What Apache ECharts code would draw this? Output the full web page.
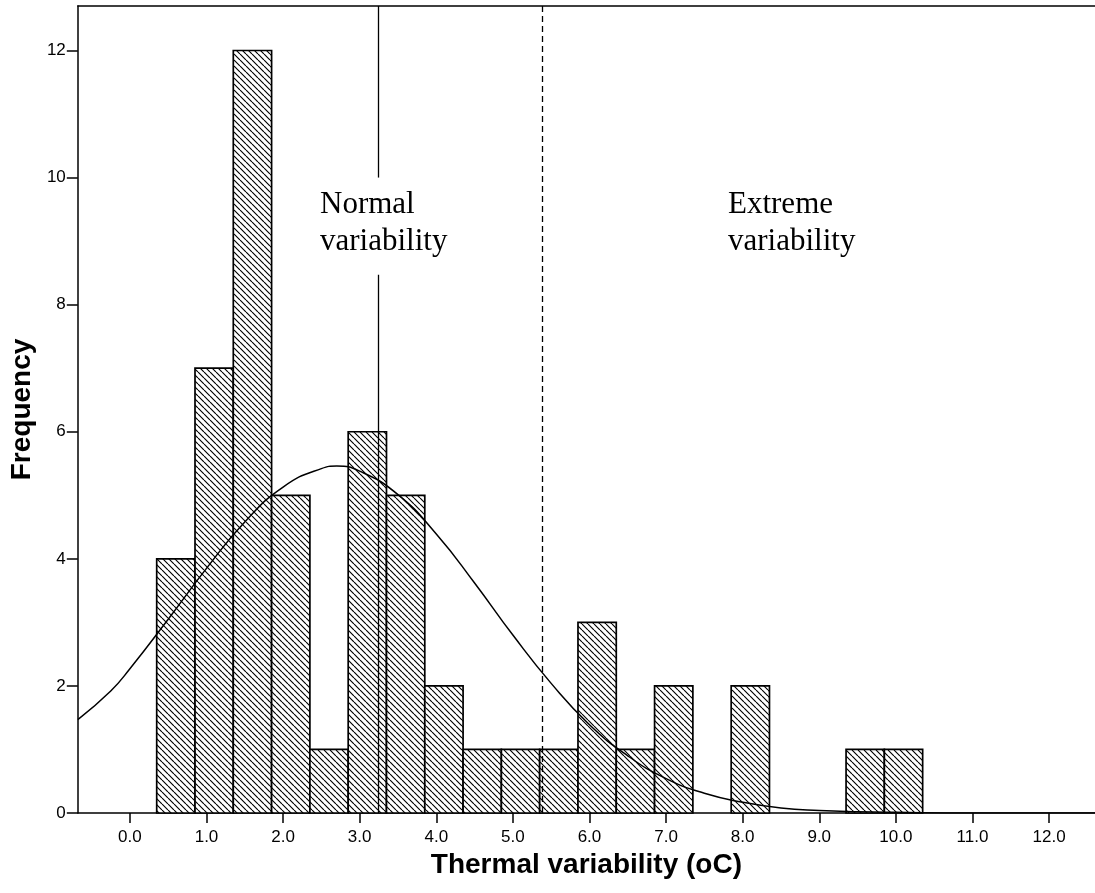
<!DOCTYPE html>
<html><head><meta charset="utf-8">
<script src="https://cdn.jsdelivr.net/npm/echarts@6/dist/echarts.min.js"></script>
<style>html,body{margin:0;padding:0;background:#fff}#c{width:1095px;height:893px}</style>
</head><body><div id="c"></div>
<script>
// Histogram bins (lower edge of each bin) and frequencies
const binStarts = [0.35, 0.85, 1.35, 1.85, 2.35, 2.85, 3.35, 3.85, 4.35, 4.85, 5.35, 5.85, 6.35, 6.85, 7.85, 9.35, 9.85];
const binWidth = 0.5;
const frequencies = [4, 7, 12, 5, 1, 6, 5, 2, 1, 1, 1, 3, 1, 2, 2, 1, 1];
// Normal curve
const curveX = [-0.68, -0.25, 0.0, 0.5, 1.0, 1.5, 2.0, 2.5, 2.7, 3.0, 3.5, 4.0, 4.5, 5.0, 5.5, 6.0, 6.5, 7.0, 7.5, 8.0, 8.5, 9.0, 9.5, 10.0, 11.0, 12.0, 12.7];
const curveY = [1.47, 1.92, 2.27, 3.05, 3.85, 4.58, 5.13, 5.42, 5.46, 5.38, 5.01, 4.39, 3.62, 2.80, 2.04, 1.39, 0.90, 0.54, 0.31, 0.17, 0.08, 0.04, 0.02, 0.01, 0.0, 0.0, 0.0];
// Tick values
const xTicks = [0, 1, 2, 3, 4, 5, 6, 7, 8, 9, 10, 11, 12];
const yTicks = [0, 2, 4, 6, 8, 10, 12];
// Threshold lines
const normalLimit = 3.24;
const normalGap = [8.47, 10.0];
const extremeLimit = 5.39;
const xMin = -0.68, xMax = 12.6, yMin = 0, yMax = 12.7;

function makeHatch() {
  const s = 6;
  const c = document.createElement('canvas');
  c.width = s; c.height = s;
  const g = c.getContext('2d');
  g.fillStyle = '#fff'; g.fillRect(0, 0, s, s);
  g.strokeStyle = '#000'; g.lineWidth = 1.15;
  g.beginPath();
  for (const k of [-1, 0, 1]) { g.moveTo(k * s, 0); g.lineTo(k * s + s, s); }
  g.stroke();
  return c;
}
const hatch = makeHatch();

const barData = binStarts.map((b, i) => [b, b + binWidth, frequencies[i]]);
const curveData = curveX.map((x, i) => [x, curveY[i]]);

const sans = '"Liberation Sans", Arial, sans-serif';
const serif = '"Liberation Serif", "Times New Roman", serif';

const chart = echarts.init(document.getElementById('c'), null, {renderer: 'canvas'});
chart.setOption({
  animation: false,
  backgroundColor: '#fff',
  grid: {left: 77, right: 0, top: 6, bottom: 80},
  xAxis: [{
    type: 'value', min: xMin, max: xMax,
    name: 'Thermal variability (oC)', nameLocation: 'middle', nameGap: 36,
    nameTextStyle: {fontFamily: sans, fontWeight: 'bold', fontSize: 28, color: '#000'},
    axisLine: {show: true, onZero: false, lineStyle: {color: '#000', width: 1.5}},
    axisTick: {show: true, length: 10, customValues: xTicks, lineStyle: {color: '#000', width: 1.5}},
    axisLabel: {customValues: xTicks, margin: 16, fontFamily: sans, fontSize: 17, color: '#000',
      formatter: v => Number(v).toFixed(1)},
    splitLine: {show: false}
  }, {
    type: 'value', position: 'top', min: xMin, max: xMax,
    axisLine: {show: true, onZero: false, lineStyle: {color: '#000', width: 1.5}},
    axisTick: {show: false}, axisLabel: {show: false}, splitLine: {show: false}
  }],
  yAxis: {
    type: 'value', min: yMin, max: yMax,
    name: 'Frequency', nameLocation: 'middle', nameGap: 41,
    nameTextStyle: {fontFamily: sans, fontWeight: 'bold', fontSize: 28, color: '#000'},
    axisLine: {show: true, onZero: false, lineStyle: {color: '#000', width: 1.5}},
    axisTick: {show: true, length: 11, customValues: yTicks, lineStyle: {color: '#000', width: 1.5}},
    axisLabel: {customValues: yTicks, margin: 12, fontFamily: sans, fontSize: 17, color: '#000'},
    splitLine: {show: false}
  },
  series: [{
    type: 'custom', xAxisIndex: 0, yAxisIndex: 0, z: 2,
    encode: {x: [0, 1], y: 2},
    data: barData,
    renderItem: function (params, api) {
      const p0 = api.coord([api.value(0), api.value(2)]);
      const p1 = api.coord([api.value(1), 0]);
      return {
        type: 'rect',
        shape: {x: p0[0], y: p0[1], width: p1[0] - p0[0], height: p1[1] - p0[1]},
        style: {fill: {image: hatch, repeat: 'repeat'}, stroke: '#000', lineWidth: 1.7}
      };
    }
  }, {
    type: 'line', xAxisIndex: 0, yAxisIndex: 0, z: 5,
    data: curveData, smooth: 0.5, showSymbol: false, symbol: 'none',
    lineStyle: {color: '#000', width: 1.5},
    markLine: {
      silent: true, symbol: 'none', label: {show: false},
      data: [
        [{coord: [normalLimit, yMax], lineStyle: {color: '#000', width: 1.3, type: 'solid'}}, {coord: [normalLimit, normalGap[1]]}],
        [{coord: [normalLimit, normalGap[0]], lineStyle: {color: '#000', width: 1.3, type: 'solid'}}, {coord: [normalLimit, 0]}],
        [{coord: [extremeLimit, yMax], lineStyle: {color: '#000', width: 1.3, type: [6, 4]}}, {coord: [extremeLimit, 0]}]
      ]
    }
  }],
  graphic: [
    {type: 'text', left: 320, top: 186, z: 10,
      style: {text: 'Normal\nvariability', fontFamily: serif, fontSize: 31, lineHeight: 37, fill: '#000'}},
    {type: 'text', left: 728, top: 186, z: 10,
      style: {text: 'Extreme\nvariability', fontFamily: serif, fontSize: 31, lineHeight: 37, fill: '#000'}}
  ]
});
</script>
</body></html>
